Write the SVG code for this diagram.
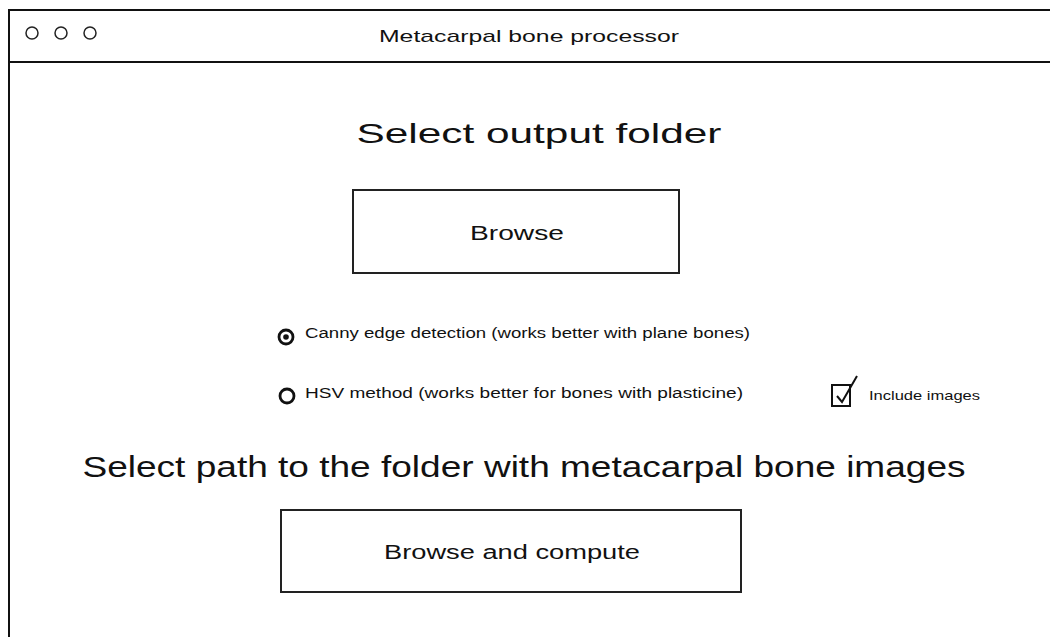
<svg xmlns="http://www.w3.org/2000/svg" width="1050" height="637" viewBox="0 0 1050 637">
<style>
.ln{fill:none;stroke:#111;stroke-width:2}
.dot{fill:none;stroke:#222;stroke-width:1.5}
.radio{fill:none;stroke:#111;stroke-width:2.8}
.box{fill:#fff;stroke:#222;stroke-width:2}
.t{font-family:"Liberation Sans",Arial,sans-serif;fill:#111}
</style>
<rect width="1050" height="637" fill="#fff"/>
<g id="window">
<path class="ln" d="M9 637 L9 10 L1052 10"/>
<path class="ln" d="M9 62 L1052 62"/>
<circle cx="32" cy="33" r="6" class="dot"/>
<circle cx="61" cy="33" r="6" class="dot"/>
<circle cx="90" cy="33" r="6" class="dot"/>
<text class="t" x="529" y="42" font-size="17" text-anchor="middle" textLength="300" lengthAdjust="spacingAndGlyphs">Metacarpal bone processor</text>
</g>
<g id="title-output">
<text class="t" x="539" y="143" font-size="28" text-anchor="middle" textLength="365" lengthAdjust="spacingAndGlyphs">Select output folder</text>
</g>
<g id="browse">
<rect class="box" x="353" y="190" width="326" height="83"/>
<text class="t" x="517" y="240" font-size="20" text-anchor="middle" textLength="94" lengthAdjust="spacingAndGlyphs">Browse</text>
</g>
<g id="radio-canny">
<circle cx="286" cy="337" r="7" class="radio"/>
<circle cx="286" cy="337" r="2.8" fill="#111"/>
<text class="t" x="305" y="338" font-size="14" textLength="445" lengthAdjust="spacingAndGlyphs">Canny edge detection (works better with plane bones)</text>
</g>
<g id="radio-hsv">
<circle cx="287" cy="396" r="7" class="radio"/>
<text class="t" x="305" y="398" font-size="14" textLength="438" lengthAdjust="spacingAndGlyphs">HSV method (works better for bones with plasticine)</text>
</g>
<g id="checkbox">
<rect x="832" y="385" width="18" height="21" class="ln"/>
<path class="ln" d="M837 396 L842 402 L857 376"/>
<text class="t" x="869" y="400" font-size="13" textLength="111" lengthAdjust="spacingAndGlyphs">Include images</text>
</g>
<g id="title-path">
<text class="t" x="524" y="477" font-size="30" text-anchor="middle" textLength="883" lengthAdjust="spacingAndGlyphs">Select path to the folder with metacarpal bone images</text>
</g>
<g id="browse-compute">
<rect class="box" x="281" y="510" width="460" height="82"/>
<text class="t" x="512" y="559" font-size="20" text-anchor="middle" textLength="256" lengthAdjust="spacingAndGlyphs">Browse and compute</text>
</g>
<g id="connectors"></g>
</svg>
